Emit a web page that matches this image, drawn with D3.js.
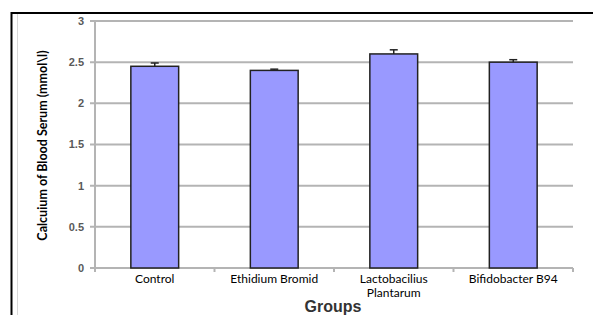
<!DOCTYPE html>
<html>
<head>
<meta charset="utf-8">
<script src="https://cdn.jsdelivr.net/npm/d3@7"></script>
<style>
  body { margin: 0; background: #fff; }
  svg { display: block; }
</style>
</head>
<body>
<script>
const groups = ['Control', 'Ethidium Bromid', 'Lactobacilius Plantarum', 'Bifidobacter B94'];
const labelLines = [['Control'], ['Ethidium Bromid'], ['Lactobacilius', 'Plantarum'], ['Bifidobacter B94']];
const means = [2.45, 2.40, 2.60, 2.50];
const errors = [0.04, 0.015, 0.05, 0.03];
const yTicks = [0, 0.5, 1, 1.5, 2, 2.5, 3];

const width = 593;
const height = 315;
const margin = { top: 21, right: 20, bottom: 47, left: 95 };

const svg = d3.select('body').append('svg')
  .attr('width', width)
  .attr('height', height);

// outer frame lines
svg.append('line')
  .attr('x1', 11.5).attr('x2', width).attr('y1', 13).attr('y2', 13)
  .attr('stroke', '#000').attr('stroke-width', 2);
svg.append('line')
  .attr('x1', 11.5).attr('x2', 11.5).attr('y1', 12).attr('y2', height)
  .attr('stroke', '#000').attr('stroke-width', 2);
svg.append('line')
  .attr('x1', 17.5).attr('x2', 17.5).attr('y1', 14).attr('y2', height)
  .attr('stroke', '#d8d8d8').attr('stroke-width', 1);

const x = d3.scaleBand()
  .domain(groups)
  .range([margin.left, width - margin.right])
  .paddingInner(0.6)
  .paddingOuter(0.3);

const y = d3.scaleLinear()
  .domain([0, 3])
  .range([height - margin.bottom, margin.top]);

// gridlines
svg.append('g')
  .selectAll('line')
  .data(yTicks)
  .enter().append('line')
  .attr('x1', margin.left - 5)
  .attr('x2', width - margin.right)
  .attr('y1', d => y(d))
  .attr('y2', d => y(d))
  .attr('stroke', '#b4b4b4')
  .attr('stroke-width', 2);

// y axis line
svg.append('line')
  .attr('x1', margin.left).attr('x2', margin.left)
  .attr('y1', y(3)).attr('y2', y(0))
  .attr('stroke', '#b4b4b4').attr('stroke-width', 2);

// x tick marks at category boundaries
const bounds = d3.range(groups.length + 1).map(i => margin.left + i * (width - margin.left - margin.right) / groups.length);
svg.append('g')
  .selectAll('line')
  .data(bounds)
  .enter().append('line')
  .attr('x1', d => d).attr('x2', d => d)
  .attr('y1', y(0)).attr('y2', y(0) + 4)
  .attr('stroke', '#b4b4b4').attr('stroke-width', 2);

// y tick labels
svg.append('g')
  .selectAll('text')
  .data(yTicks)
  .enter().append('text')
  .attr('x', margin.left - 11)
  .attr('y', d => y(d))
  .attr('dy', '0.35em')
  .attr('text-anchor', 'end')
  .attr('font-family', 'Liberation Sans, Arial, sans-serif')
  .attr('font-weight', 'bold')
  .attr('font-size', 11)
  .attr('fill', '#595959')
  .text(d => d);

// bars
svg.append('g')
  .selectAll('rect')
  .data(groups)
  .enter().append('rect')
  .attr('x', d => x(d))
  .attr('y', (d, i) => y(means[i]))
  .attr('width', x.bandwidth())
  .attr('height', (d, i) => y(0) - y(means[i]))
  .attr('fill', '#9999ff')
  .attr('stroke', '#222')
  .attr('stroke-width', 1.5);

// error bars (upper only)
const eb = svg.append('g').attr('stroke', '#222').attr('stroke-width', 1.5);
groups.forEach((g, i) => {
  const cx = x(g) + x.bandwidth() / 2;
  eb.append('line')
    .attr('x1', cx).attr('x2', cx)
    .attr('y1', y(means[i])).attr('y2', y(means[i] + errors[i]));
  eb.append('line')
    .attr('x1', cx - 4).attr('x2', cx + 4)
    .attr('y1', y(means[i] + errors[i])).attr('y2', y(means[i] + errors[i]));
});

// category labels
const cat = svg.append('g')
  .attr('font-family', 'Lato, sans-serif')
  .attr('font-size', 12)
  .attr('fill', '#000');
groups.forEach((g, i) => {
  labelLines[i].forEach((line, k) => {
    cat.append('text')
      .attr('x', x(g) + x.bandwidth() / 2)
      .attr('y', y(0) + 15 + k * 13.5)
      .attr('text-anchor', 'middle')
      .text(line);
  });
});

// axis titles
svg.append('text')
  .attr('x', 333)
  .attr('y', 312)
  .attr('text-anchor', 'middle')
  .attr('font-family', 'Liberation Sans, Arial, sans-serif')
  .attr('font-weight', 'bold')
  .attr('font-size', 16)
  .attr('fill', '#333')
  .text('Groups');

svg.append('text')
  .attr('transform', `translate(47, ${(y(0) + y(3)) / 2 + 1}) rotate(-90)`)
  .attr('text-anchor', 'middle')
  .attr('font-family', 'Lato, sans-serif')
  .attr('font-weight', 'bold')
  .attr('font-size', 12.5)
  .attr('fill', '#000')
  .text('Calcuium of Blood Serum (mmol\\l)');
</script>
</body>
</html>
